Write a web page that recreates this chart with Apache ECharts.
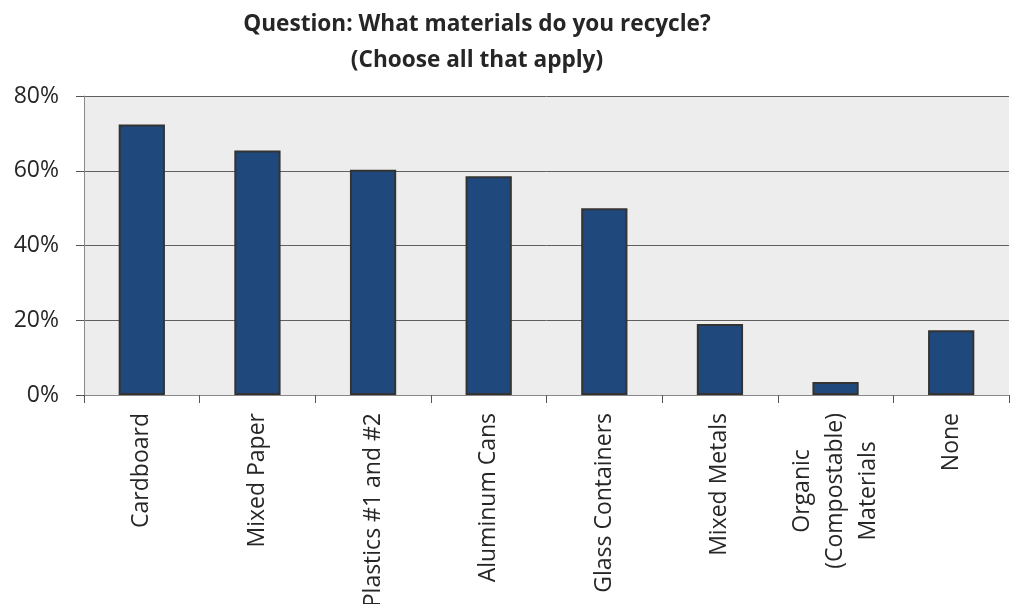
<!DOCTYPE html>
<html>
<head>
<meta charset="utf-8">
<script src="https://cdn.jsdelivr.net/npm/echarts@6/dist/echarts.min.js"></script>
<style>
html,body{margin:0;padding:0;background:#fff;}
#chart{width:1010px;height:604px;}
</style>
</head>
<body>
<div id="chart"></div>
<script>
var categories = ['Cardboard', 'Mixed Paper', 'Plastics #1 and #2', 'Aluminum Cans', 'Glass Containers', 'Mixed Metals', 'Organic\n(Compostable)\nMaterials', 'None'];
var values = [72.4, 65.4, 60.3, 58.5, 50.0, 19.0, 3.5, 17.3];
var yTicks = [0, 20, 40, 60, 80];
var titleLines = ['Question: What materials do you recycle?', '(Choose all that apply)'];

var labelFont = '23px "Open Sans"';
var mctx = document.createElement('canvas').getContext('2d');
mctx.font = labelFont;
function tw(s) { return mctx.measureText(s).width; }

var rich = {};
function labelFormatter(v) {
  if (v.indexOf('\n') < 0) return v;
  var lines = v.split('\n');
  var maxW = Math.max.apply(null, lines.map(tw));
  return lines.map(function (s, i) {
    var p = (maxW - tw(s)) / 2;
    var key = 'l' + i + '_' + Math.round(p * 10);
    rich[key] = {padding: [0, p, 0, p], fontFamily: '"Open Sans"', fontSize: 23, color: '#262626', lineHeight: 33};
    return '{' + key + '|' + s + '}';
  }).join('\n');
}
categories.forEach(labelFormatter);

var chart = echarts.init(document.getElementById('chart'));
chart.setOption({
  animation: false,
  backgroundColor: '#ffffff',
  graphic: [
    {type: 'text', x: 477, y: 25, style: {text: titleLines[0], font: 'bold 22.6px "Open Sans"', fill: '#262626', textAlign: 'center', textVerticalAlign: 'middle'}},
    {type: 'text', x: 477, y: 61, style: {text: titleLines[1], font: 'bold 22.6px "Open Sans"', fill: '#262626', textAlign: 'center', textVerticalAlign: 'middle'}}
  ],
  grid: {left: 84, right: 1, top: 96, bottom: 209, show: true, backgroundColor: '#EDEDED', borderWidth: 0, containLabel: false, outerBoundsMode: 'none'},
  xAxis: {
    type: 'category',
    data: categories,
    axisLine: {show: true, lineStyle: {color: '#888888', width: 1}},
    axisTick: {show: true, length: 8, lineStyle: {color: '#555555'}},
    axisLabel: {
      rotate: 90, interval: 0, margin: 18, hideOverlap: false,
      fontFamily: '"Open Sans"', fontSize: 23, color: '#262626', lineHeight: 33,
      formatter: labelFormatter,
      rich: rich
    }
  },
  yAxis: {
    type: 'value', min: 0, max: 80, interval: 20,
    axisLine: {show: true, lineStyle: {color: '#888888'}},
    axisTick: {show: true, length: 8, lineStyle: {color: '#555555'}},
    axisLabel: {
      margin: 25, fontFamily: '"Open Sans"', fontSize: 23, color: '#262626',
      formatter: function (v) { return yTicks.indexOf(v) >= 0 ? v + '%' : ''; }
    },
    splitLine: {show: true, lineStyle: {color: '#606060', width: 1}}
  },
  series: [{
    type: 'bar',
    data: values,
    barWidth: '40%',
    itemStyle: {color: '#1F497D', borderColor: '#333333', borderWidth: 2}
  }]
});
</script>
</body>
</html>
